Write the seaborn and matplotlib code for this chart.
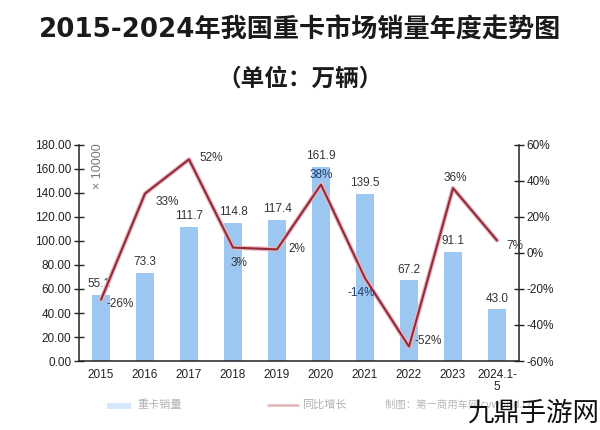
import matplotlib
matplotlib.use("Agg")
import matplotlib.pyplot as plt
import seaborn as sns
import numpy as np
import pandas as pd
from matplotlib.patches import Rectangle
from matplotlib.lines import Line2D

years = ["2015", "2016", "2017", "2018", "2019", "2020", "2021", "2022", "2023", "2024.1-\n5"]
sales = [55.1, 73.3, 111.7, 114.8, 117.4, 161.9, 139.5, 67.2, 91.1, 43.0]
growth = [-26, 33, 52, 3, 2, 38, -14, -52, 36, 7]
growth_labels = ["-26%", "33%", "52%", "3%", "2%", "38%", "-14%", "-52%", "36%", "7%"]
left_ticks = [0, 20, 40, 60, 80, 100, 120, 140, 160, 180]
right_ticks = [-60, -40, -20, 0, 20, 40, 60]

sns.set_theme(style="white")
plt.rcParams['font.family'] = ['Noto Sans CJK SC', 'DejaVu Sans']
LAT = ['Liberation Sans', 'DejaVu Sans']

fig = plt.figure(figsize=(6, 4.3), dpi=100)
fig.patch.set_facecolor("white")

ax = fig.add_axes([79/600, 1-361/430, 440/600, 216/430])
df = pd.DataFrame({"year": years, "sales": sales})
sns.barplot(data=df, x="year", y="sales", ax=ax, color="#9CC7F0", width=0.42,
            saturation=1, edgecolor="none")
ax.set_xlim(-0.5, 9.5)
ax.set_ylim(0, 180)
ax.set_yticks(left_ticks)
ax.set_yticklabels([f"{v:.2f}" for v in left_ticks], fontsize=8.5,
                   family=LAT, color="#222222")
ax.set_xlabel("")
ax.set_ylabel("")
ax.set_xticks(np.arange(0.5, 9.5, 1.0))
ax.set_xticklabels([])
ax.set_xticks(np.arange(10), minor=True)
ax.set_xticklabels(years, minor=True, fontsize=8.5, family=LAT, color="#222222",
                   linespacing=0.95)
ax.tick_params(axis="x", which="major", direction="in", length=4, width=1, color="#222222")
ax.tick_params(axis="x", which="minor", length=0, pad=6)
ax.tick_params(axis="y", direction="inout", length=7, width=1, color="#222222", pad=2)
for s in ["top", "right"]:
    ax.spines[s].set_visible(False)
for s in ["left", "bottom"]:
    ax.spines[s].set_color("#222222")
    ax.spines[s].set_linewidth(1.1)

for i, v in enumerate(sales):
    ax.text(i - 0.05 if i == 0 else i, v + 4, f"{v:.1f}", ha="center", va="bottom",
            fontsize=8.5, color="#333333", family=LAT)

ax.text(-0.07, 162, "× 10000", rotation=90, ha="center", va="center", fontsize=9,
        color="#777777", family=LAT)

ax2 = ax.twinx()
ax2.set_position(ax.get_position())
x = np.arange(len(growth))
sns.lineplot(x=x, y=growth, ax=ax2, color="#EDB3B9", linewidth=3.2, legend=False)
sns.lineplot(x=x, y=growth, ax=ax2, color="#8E2B3C", linewidth=1.5, legend=False)
ax2.set_ylim(-60, 60)
ax2.set_xlim(-0.5, 9.5)
ax2.set_yticks(right_ticks)
ax2.set_yticklabels([f"{v}%" for v in right_ticks], fontsize=8.5, family=LAT,
                    color="#222222")
ax2.tick_params(axis="y", direction="inout", length=7, width=1, color="#222222", pad=2)
ax2.set_ylabel("")
for s in ["top", "left", "bottom"]:
    ax2.spines[s].set_visible(False)
ax2.spines["right"].set_color("#222222")
ax2.spines["right"].set_linewidth(1.1)

offsets = [(14, -3), (16, -6), (16, 1), (4, -11), (14, 0), (0, 7), (-3, -11),
           (14, 4), (2, 7), (13, -4)]
for i, (g, lab) in enumerate(zip(growth, growth_labels)):
    dx, dy = offsets[i]
    col = "#1F3B6B" if i in (5, 6) else "#333333"
    ax2.annotate(lab, (i, g), xytext=(dx, dy), textcoords="offset points",
                 ha="center", va="center", fontsize=8.5, color=col, family=LAT)

fig.text(0.5, 1-31/430, "2015-2024年我国重卡市场销量年度走势图", ha="center", va="center",
         fontsize=18.8, fontweight="bold", color="#1a1a1a",
         family=['DejaVu Sans', 'Noto Sans CJK SC'])
fig.text(0.5, 1-79/430, "（单位：万辆）", ha="center", va="center",
         fontsize=17, fontweight="bold", color="#1a1a1a")

# legend row (faded)
fig.patches.append(Rectangle((107/600, 1-409/430), 24/600, 6/430, transform=fig.transFigure,
                             facecolor="#D6E8FA", edgecolor="none"))
fig.text(137/600, 1-405/430, "重卡销量", ha="left", va="center", fontsize=8, color="#B0B0B0")
fig.lines.append(Line2D([268/600, 298/600], [1-405/430, 1-405/430], transform=fig.transFigure,
                        color="#E0B4B8", linewidth=1.8))
fig.text(302/600, 1-405/430, "同比增长", ha="left", va="center", fontsize=8, color="#B0B0B0")
fig.text(385/600, 1-405/430, "制图：第一商用车网 cvworld.cn", ha="left", va="center",
         fontsize=7.5, color="#B8B8B8")

fig.text(599/600, 1-413/430, "九鼎手游网", ha="right", va="center", fontsize=19,
         color="#111111")

fig.savefig("out.png", dpi=100, facecolor="white")
